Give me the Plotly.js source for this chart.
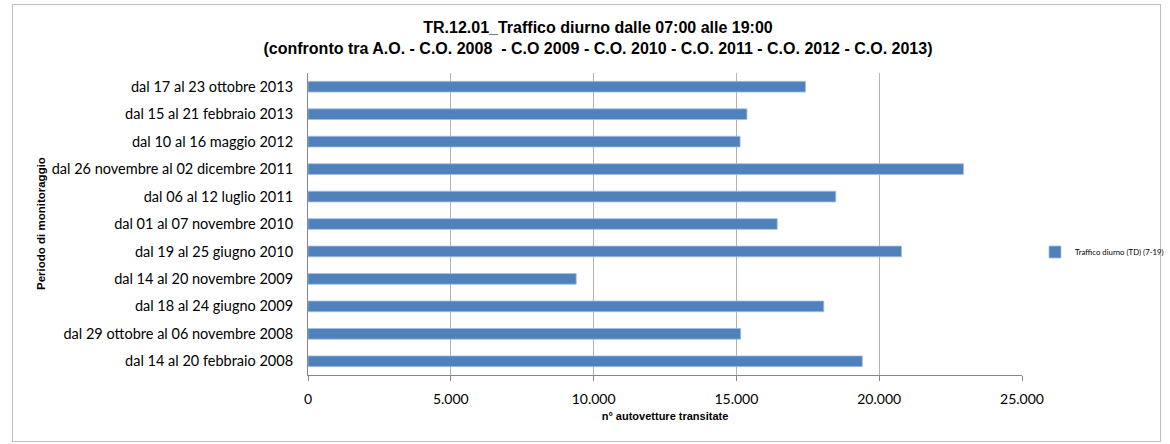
<!DOCTYPE html>
<html>
<head>
<meta charset="utf-8">
<script src="https://cdn.plot.ly/plotly-3.0.1.min.js"></script>
<style>
html,body{margin:0;padding:0;background:#fff;}
#frame{position:absolute;left:12px;top:4px;width:1147px;height:436px;border:1px solid #bfbfbf;}
#chart{position:absolute;left:0;top:0;width:1170px;height:444px;}
</style>
</head>
<body>
<div id="frame"></div>
<div id="chart"></div>
<script>
const periods = [
  "dal 14 al 20 febbraio 2008",
  "dal 29 ottobre al 06 novembre 2008",
  "dal 18 al 24 giugno 2009",
  "dal 14 al 20 novembre 2009",
  "dal 19 al 25 giugno 2010",
  "dal 01 al 07 novembre 2010",
  "dal 06 al 12 luglio 2011",
  "dal 26 novembre al 02 dicembre 2011",
  "dal 10 al 16 maggio 2012",
  "dal 15 al 21 febbraio 2013",
  "dal 17 al 23 ottobre 2013"
];
const trafficoDiurno = [19410, 15150, 18060, 9390, 20780, 16430, 18480, 22950, 15130, 15370, 17420];
const seriesName = "Traffico diurno (TD) (7-19)";
const xTicks = [0, 5000, 10000, 15000, 20000, 25000];

const trace = {
  type: 'bar',
  orientation: 'h',
  y: periods,
  x: trafficoDiurno,
  name: seriesName,
  marker: {color: '#4F81BD', line: {color: '#A7BFDE', width: 0.8}},
  showlegend: true,
  hoverinfo: 'x+y'
};

const layout = {
  width: 1170, height: 444,
  paper_bgcolor: 'rgba(0,0,0,0)',
  plot_bgcolor: 'rgba(0,0,0,0)',
  margin: {l: 308, r: 148, t: 73, b: 69, pad: 0, autoexpand: false},
  separators: ',.',
  bargap: 0.61,
  title: {
    text: '<b>TR.12.01_Traffico diurno dalle 07:00 alle 19:00</b><br><b>(confronto tra A.O. - C.O. 2008 &nbsp;- C.O 2009 - C.O. 2010 - C.O. 2011 - C.O. 2012 - C.O. 2013)</b>',
    font: {family: 'Liberation Sans, Arial, sans-serif', size: 16, color: '#000'},
    x: 598/1170, xref: 'container', xanchor: 'center',
    y: 1 - 33/444, yref: 'container', yanchor: 'middle'
  },
  xaxis: {
    range: [0, 25000],
    tickvals: xTicks,
    tickformat: ',',
    showgrid: true, gridcolor: '#b3b3b3', gridwidth: 1,
    zeroline: false,
    showline: true, linecolor: '#868686', linewidth: 1,
    ticks: 'outside', ticklen: 5, tickcolor: '#868686',
    ticklabelstandoff: 6,
    tickfont: {family: 'Lato, Open Sans, sans-serif', size: 14, color: '#000'},
    title: {text: '<b>n° autovetture transitate</b>', font: {family: 'Liberation Sans, Arial, sans-serif', size: 11, color: '#000'}, standoff: 6},
    fixedrange: true
  },
  yaxis: {
    type: 'category',
    showgrid: false,
    zeroline: false,
    showline: true, linecolor: '#868686', linewidth: 1,
    ticks: '',
    ticklabelstandoff: 11,
    tickfont: {family: 'Lato, Open Sans, sans-serif', size: 14.5, color: '#000'},
    fixedrange: true
  },
  legend: {
    x: (1035 - 308)/714, xanchor: 'left',
    y: (375 - 252)/302, yanchor: 'middle',
    font: {family: 'Lato, Open Sans, sans-serif', size: 7.8, color: '#000'},
    bgcolor: 'rgba(0,0,0,0)',
    itemwidth: 30
  },
  annotations: [{
    text: '<b>Periodo di monitoraggio</b>',
    xref: 'paper', yref: 'paper',
    x: (41 - 308)/714, y: 0.5,
    xanchor: 'center', yanchor: 'middle',
    textangle: -90, showarrow: false,
    font: {family: 'Liberation Sans, Arial, sans-serif', size: 11.5, color: '#000'}
  }]
};

Plotly.newPlot('chart', [trace], layout, {displayModeBar: false, staticPlot: true});
</script>
</body>
</html>
